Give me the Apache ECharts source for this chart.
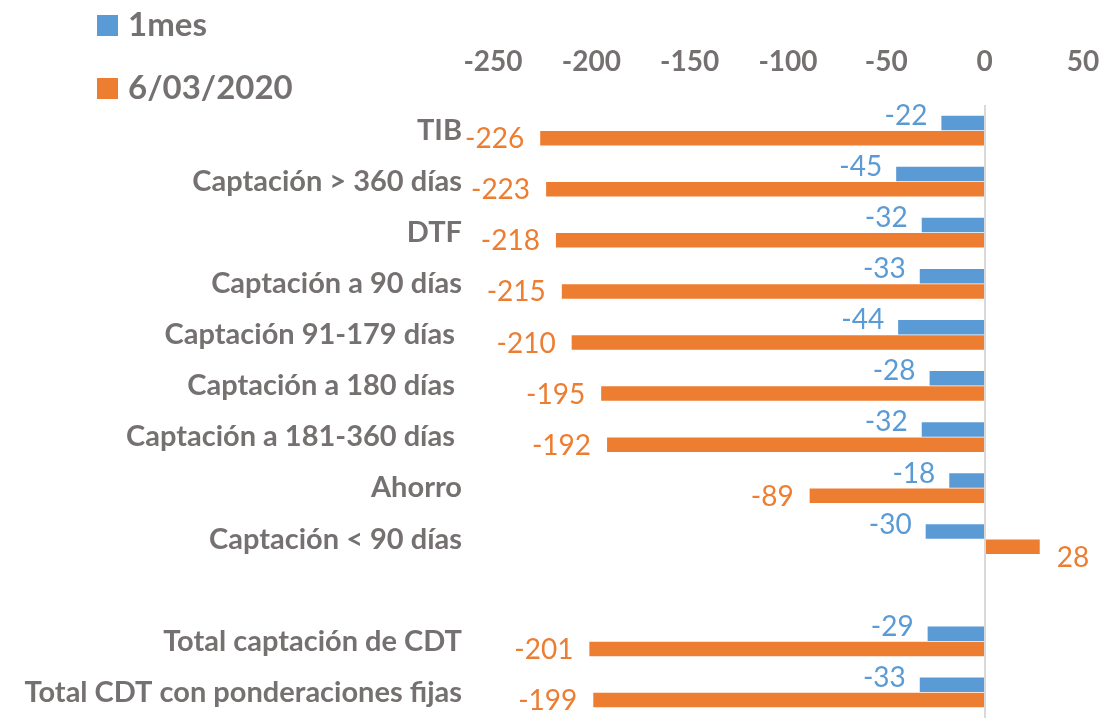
<!DOCTYPE html>
<html>
<head>
<meta charset="utf-8">
<script src="https://cdn.jsdelivr.net/npm/echarts@6/dist/echarts.min.js"></script>
<style>
  html, body { margin: 0; padding: 0; background: #fff; }
  #chart { width: 1104px; height: 718px; }
</style>
</head>
<body>
<div id="chart"></div>
<script>
// categories top to bottom (blank one is the gap before the totals)
const categories = [
  'TIB',
  'Captación > 360 días',
  'DTF',
  'Captación a 90 días',
  'Captación 91-179 días ',
  'Captación a 180 días ',
  'Captación a 181-360 días ',
  'Ahorro',
  'Captación < 90 días',
  '',
  'Total captación de CDT',
  'Total CDT con ponderaciones fijas'
];
const mes1 = [-22, -45, -32, -33, -44, -28, -32, -18, -30, null, -29, -33];
const marzo = [-226, -223, -218, -215, -210, -195, -192, -89, 28, null, -201, -199];
const xTicks = { min: -250, max: 50, interval: 50 };

const BLUE = '#5B9BD5';
const ORANGE = '#ED7D31';
const GRAY = '#767171';
const FONT = 'Lato';

const chart = echarts.init(document.getElementById('chart'));

function labelled(values, negOffset, dist) {
  return values.map(function (v) {
    if (v === null) return null;
    return {
      value: v,
      label: v >= 0
        ? { position: 'right', distance: 17, offset: [0, 11] }
        : { position: 'left', distance: dist, offset: [0, negOffset] }
    };
  });
}

const option = {
  animation: false,
  textStyle: { fontFamily: FONT },
  legend: {
    orient: 'vertical',
    left: 92,
    top: 4,
    itemWidth: 21,
    itemHeight: 21,
    itemGap: 30,
    icon: 'rect',
    textStyle: {
      fontFamily: FONT, fontWeight: 'bold', fontSize: 33, color: GRAY,
      lineHeight: 30, padding: [0, 0, 0, 5]
    },
    data: ['1mes', '6/03/2020']
  },
  grid: { left: 493, right: 21, top: 105, height: 619, containLabel: false },
  xAxis: {
    type: 'value',
    position: 'top',
    min: xTicks.min,
    max: xTicks.max,
    interval: xTicks.interval,
    axisLine: { show: false },
    axisTick: { show: false },
    splitLine: { show: false },
    axisLabel: {
      margin: 29,
      fontFamily: FONT, fontWeight: 'bold', fontSize: 28, color: GRAY
    }
  },
  yAxis: {
    type: 'category',
    inverse: true,
    data: categories,
    axisLine: { show: false },
    axisTick: { show: false },
    axisLabel: {
      margin: 31,
      fontFamily: FONT, fontWeight: 'bold', fontSize: 29, color: GRAY
    }
  },
  series: [
    {
      name: '1mes',
      type: 'bar',
      barWidth: 14.5,
      barGap: '5%',
      itemStyle: { color: BLUE },
      label: { show: true, color: BLUE, fontFamily: FONT, fontSize: 28 },
      data: labelled(mes1, -7, 14),
      markLine: {
        silent: true,
        symbol: 'none',
        label: { show: false },
        lineStyle: { color: '#D9D9D9', width: 2, type: 'solid' },
        data: [{ xAxis: 0 }]
      }
    },
    {
      name: '6/03/2020',
      type: 'bar',
      barWidth: 14.5,
      itemStyle: { color: ORANGE },
      label: { show: true, color: ORANGE, fontFamily: FONT, fontSize: 28 },
      data: labelled(marzo, 1, 16)
    }
  ]
};

chart.setOption(option);
</script>
</body>
</html>
